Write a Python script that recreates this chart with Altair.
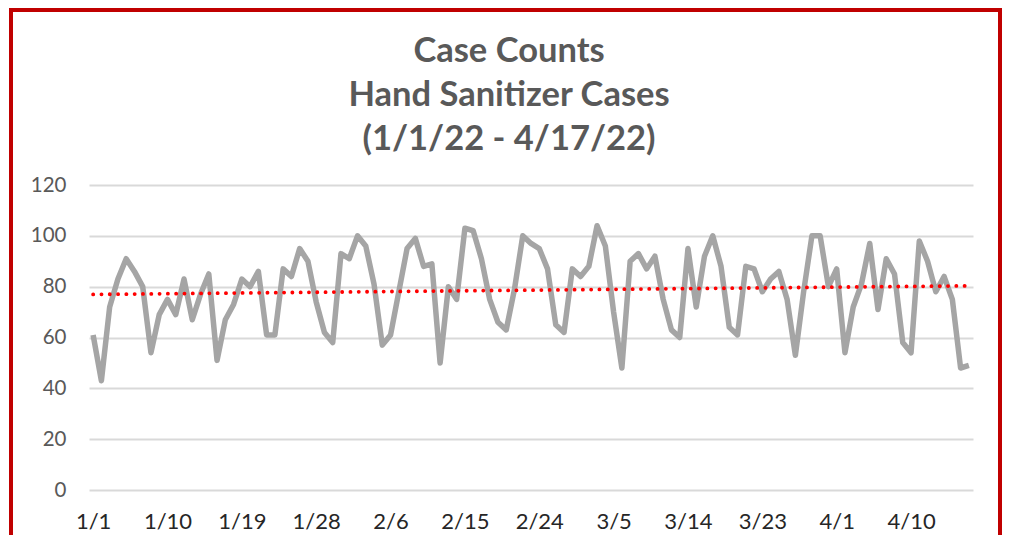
import altair as alt
import pandas as pd

# Daily case counts, 1/1/22 - 4/17/22 (107 days)
start_date = "2022-01-01"
case_counts = [
    61, 43, 72, 83, 91, 86, 80, 54, 69, 75,
    69, 83, 67, 77, 85, 51, 67, 73, 83, 80,
    86, 61, 61, 87, 84, 95, 90, 74, 62, 58,
    93, 91, 100, 96, 81, 57, 61, 78, 95, 99,
    88, 89, 50, 80, 75, 103, 102, 91, 75, 66,
    63, 79, 100, 97, 95, 87, 65, 62, 87, 84,
    88, 104, 96, 70, 48, 90, 93, 87, 92, 75,
    63, 60, 95, 72, 92, 100, 88, 64, 61, 88,
    87, 78, 83, 86, 75, 53, 78, 100, 100, 80,
    87, 54, 72, 81, 97, 71, 91, 85, 58, 54,
    98, 90, 78, 84, 75, 48, 49,
]
tick_days = [0, 9, 18, 27, 36, 45, 54, 63, 72, 81, 90, 99]
y_ticks = [0, 20, 40, 60, 80, 100, 120]
title_lines = ["Case Counts", "Hand Sanitizer Cases", "(1/1/22 - 4/17/22)"]

dates = pd.date_range(start_date, periods=len(case_counts), freq="D")
df = pd.DataFrame({
    "day": list(range(len(case_counts))),
    "date": dates.strftime("%-m/%-d"),
    "cases": case_counts,
})

FONT = "Lato"
PLOT_W, PLOT_H = 884, 305
PAD_L, PAD_T, PAD_R, PAD_B = 81, 177, 29, 45

x_enc = alt.X(
    "day:Q",
    scale=alt.Scale(domain=[-0.5, 106.5], nice=False, zero=False),
    axis=alt.Axis(
        values=tick_days,
        labelExpr="timeFormat(datetime(2022, 0, 1 + datum.value), '%-m/%-d')",
        title=None, grid=False, domain=False, ticks=False,
        labelFont=FONT, labelFontSize=22, labelColor="#262626",
        labelPadding=21, labelBaseline="top", labelFlush=False,
    ),
)
y_enc = alt.Y(
    "cases:Q",
    scale=alt.Scale(domain=[0, 120], nice=False),
    axis=alt.Axis(
        values=y_ticks, title=None, domain=False, ticks=False,
        gridColor="#D9D9D9", gridWidth=2,
        labelFont=FONT, labelFontSize=20.5, labelColor="#595959",
        labelPadding=23,
    ),
)

base = alt.Chart(df)

line = base.mark_line(color="#A5A5A5", strokeWidth=5.5, strokeJoin="round").encode(
    x=x_enc, y=y_enc
)

trend = base.transform_regression("day", "cases").mark_line(
    color="#FF0000", strokeWidth=3.8, strokeDash=[0.1, 8.2], strokeCap="round"
).encode(x="day:Q", y="cases:Q")

one_row = alt.Data(values=[{"b": 1}])

border = alt.Chart(one_row).mark_rect(
    filled=False, stroke="#C00000", strokeWidth=4, clip=False
).encode(
    x=alt.value(-PAD_L + 3),
    x2=alt.value(PLOT_W + PAD_R - 2),
    y=alt.value(-PAD_T + 2),
    y2=alt.value(PLOT_H + PAD_B + 20),
)

title = alt.Chart(one_row).mark_text(
    font=FONT, fontSize=34.5, fontWeight="bold", color="#595959",
    align="center", baseline="alphabetic", lineHeight=44, clip=False,
).encode(
    text=alt.value(title_lines),
    x=alt.value(420),
    y=alt.value(-123),
)

chart = alt.layer(line, trend, border, title).properties(
    width=PLOT_W,
    height=PLOT_H,
    padding={"left": PAD_L, "top": PAD_T, "right": PAD_R, "bottom": PAD_B},
    autosize=alt.AutoSizeParams(type="none"),
    background="white",
).configure_view(stroke=None)

chart.save("out.html", embed_options={"renderer": "svg", "actions": False})
